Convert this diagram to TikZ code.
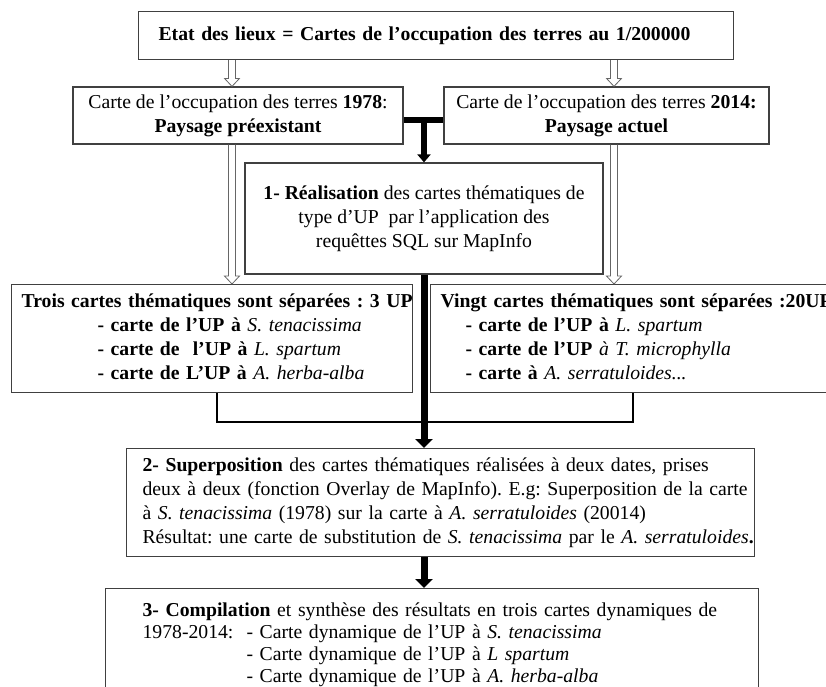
\documentclass[tikz,border=0pt]{standalone}
\usepackage{fontspec}
\setmainfont{Liberation Serif}
\usetikzlibrary{arrows.meta, calc}
\frenchspacing

% outlined (hollow) downward arrow between two points
\newcommand{\hollowdown}[2]{%
  \draw[hollow] ($(#1)+(-3.5,0)$) -- ($(#2)+(-3.5,-8)$) -- ($(#2)+(-7.5,-8)$) -- (#2)
    -- ($(#2)+(7.5,-8)$) -- ($(#2)+(3.5,-8)$) -- ($(#1)+(3.5,0)$);}

\begin{document}
\begin{tikzpicture}[x=1pt, y=-1pt,
  every node/.style={font=\fontsize{19.7}{24}\selectfont},
  box/.style={draw=black!75, line width=1.2pt, rectangle, inner sep=0pt},
  hollow/.style={draw=black!60, line width=0.8pt},
  thickarrow/.style={line width=7pt, -{Triangle[width=17pt, length=9pt]}},
  joinline/.style={line width=2pt}]

  \path[use as bounding box, fill=white] (0,0) rectangle (826,686);

  % State of the art
  \node[box, anchor=north west, minimum width=595pt, minimum height=48pt, text width=555pt,
        inner xsep=20pt, align=left] (etat) at (138,11)
    {\textbf{Etat des lieux = Cartes de l’occupation des terres au 1/200000}};

  % Land-use maps
  \node[box, minimum width=330pt, minimum height=57pt, align=center] (l78) at (238,115.5)
    {Carte de l’occupation des terres \textbf{1978}:\\ \textbf{Paysage préexistant}};
  \node[box, minimum width=325pt, minimum height=57pt, align=center] (r14) at (606.5,115.5)
    {Carte de l’occupation des terres \textbf{2014:}\\ \textbf{Paysage actuel}};

  % Step 1
  \node[box, minimum width=358pt, minimum height=111pt, align=center] (real) at (424,218.5)
    {\textbf{1- Réalisation} des cartes thématiques de\\ type d’UP~ par l’application des\\ requêttes SQL sur MapInfo};

  % Thematic maps
  \node[box, anchor=north west, minimum width=401pt, minimum height=108pt, text width=381pt,
        inner xsep=10pt, align=left] (trois) at (11,284)
    {\begin{tabular}{@{}l@{}}
      \textbf{Trois cartes thématiques sont séparées : 3 UP}\\
      \hspace*{76pt}\textbf{- carte de l’UP à} \textit{S. tenacissima}\\
      \hspace*{76pt}\textbf{- carte de~ l’UP à} \textit{L. spartum}\\
      \hspace*{76pt}\textbf{- carte de L’UP à} \textit{A. herba-alba}
    \end{tabular}};
  \node[box, anchor=north west, minimum width=420pt, minimum height=108pt, text width=400pt,
        inner xsep=10pt, align=left] (vingt) at (430,284)
    {\begin{tabular}{@{}l@{}}
      \textbf{Vingt cartes thématiques sont séparées :20UP}\\
      \hspace*{25pt}\textbf{- carte de l’UP à} \textit{L. spartum}\\
      \hspace*{25pt}\textbf{- carte de l’UP} \textit{à T. microphylla}\\
      \hspace*{25pt}\textbf{- carte à} \textit{A. serratuloides...}
    \end{tabular}};

  % Step 2
  \node[box, anchor=north west, minimum width=628pt, minimum height=108pt, text width=596pt,
        inner xsep=16pt, align=left] (sup) at (126,448)
    {\begin{tabular}{@{}l@{}}
      \textbf{2- Superposition} des cartes thématiques réalisées à deux dates, prises\\
      deux à deux (fonction Overlay de MapInfo). E.g: Superposition de la carte\\
      à \textit{S. tenacissima} (1978) sur la carte à \textit{A. serratuloides} (20014)\\
      Résultat: une carte de substitution de \textit{S. tenacissima} par le \textit{A. serratuloides}\textbf{.}
    \end{tabular}};

  % Step 3
  \node[box, anchor=north west, minimum width=653pt, minimum height=112pt, text width=579pt,
        inner xsep=37pt, align=left, font=\fontsize{19.7}{22}\selectfont] (comp) at (105,588)
    {\begin{tabular}{@{}l@{}}
      \textbf{3- Compilation} et synthèse des résultats en trois cartes dynamiques de\\
      \makebox[104pt][l]{1978-2014:}- Carte dynamique de l’UP à \textit{S. tenacissima}\\
      \hspace*{104pt}- Carte dynamique de l’UP à \textit{L spartum}\\
      \hspace*{104pt}- Carte dynamique de l’UP à \textit{A. herba-alba}
    \end{tabular}};

  % Hollow arrows
  \coordinate (hl) at (232,0);
  \coordinate (hr) at (614,0);
  \hollowdown{etat.south -| hl}{l78.north -| hl}
  \hollowdown{etat.south -| hr}{r14.north -| hr}
  \hollowdown{l78.south -| hl}{trois.north -| hl}
  \hollowdown{r14.south -| hr}{vingt.north -| hr}

  % T junction into step 1
  \coordinate (tbar) at (424,120);
  \draw[line width=6pt] (l78.east |- tbar) -- (r14.west |- tbar);
  \draw[line width=6pt, -{Triangle[width=13pt, length=8pt]}] (tbar) -- (real.north);

  % Joining the thematic maps
  \coordinate (jl) at (217,422);
  \coordinate (jr) at (633,422);
  \draw[joinline] (trois.south -| jl) -- (jl) -- (jr) -- (vingt.south -| jr);

  % Main flow
  \draw[thickarrow] (real.south) -- (sup.north -| real.south);
  \draw[thickarrow] (sup.south -| real.south) -- (comp.north -| real.south);
\end{tikzpicture}
\end{document}
